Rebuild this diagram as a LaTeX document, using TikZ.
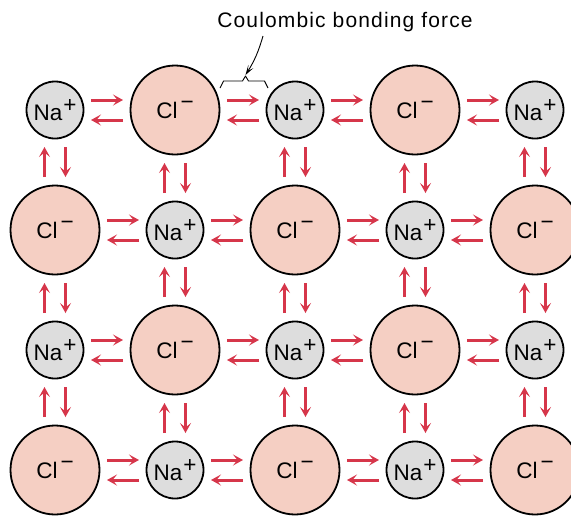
\documentclass[tikz,border=0pt]{standalone}
\usepackage{fontspec}
\setmainfont{Liberation Sans}
\newfontfamily\capfont[LetterSpace=5.5]{Liberation Sans}
\usetikzlibrary{arrows.meta,calc}
\definecolor{clfill}{HTML}{F5CFC3}
\definecolor{nafill}{HTML}{DDDDDD}
\definecolor{bondred}{HTML}{D6364A}
\newcommand{\napl}{Na\kern1pt\raisebox{7.5pt}{+}}
\newcommand{\clmi}{Cl\kern3pt\raisebox{9pt}{−}}
\begin{document}
\begin{tikzpicture}[x=1pt,y=-1pt,
  ion/.style={circle,draw=black,line width=1.8pt,inner sep=0pt,outer sep=0pt,
    font=\fontsize{22.5}{22.5}\selectfont},
  na/.style={ion,fill=nafill,minimum size=57pt},
  cl/.style={ion,fill=clfill,minimum size=89pt},
  bond/.style={draw=bondred,line width=3pt,
    -{Stealth[length=10pt,width=11pt,inset=4.5pt]}},
  callout/.style={draw=black,line width=0.9pt,
    -{Stealth[length=10pt,width=6pt,inset=5pt]}},
  bracket/.style={draw=black,line width=0.9pt,line join=round}]
\useasboundingbox (0,0) rectangle (571,515);
\begin{scope}
\clip (0,0) rectangle (571,515);
% ions
\foreach \i in {0,...,4}{
  \foreach \j in {0,...,3}{
    \pgfmathtruncatemacro\ionparity{mod(\i+\j,2)}
    \ifnum\ionparity=0
      \node[na] (n-\i-\j) at ({55+120*\i},{110+120*\j}) {\napl};
    \else
      \node[cl] (n-\i-\j) at ({55+120*\i},{110+120*\j}) {\clmi};
    \fi
  }
}
% horizontal bonds
\foreach \i [evaluate=\i as \k using int(\i+1)] in {0,...,3}{
  \foreach \j in {0,...,3}{
    \coordinate (h-\i-\j) at ($(n-\i-\j.east)!0.5!(n-\k-\j.west)$);
    \draw[bond] ($(h-\i-\j)+(-16,-10)$) -- ($(h-\i-\j)+(16,-10)$);
    \draw[bond] ($(h-\i-\j)+(16,10)$) -- ($(h-\i-\j)+(-16,10)$);
  }
}
% vertical bonds
\foreach \i in {0,...,4}{
  \foreach \j [evaluate=\j as \k using int(\j+1)] in {0,...,2}{
    \coordinate (v-\i-\j) at ($(n-\i-\j.south)!0.5!(n-\i-\k.north)$);
    \draw[bond] ($(v-\i-\j)+(-10.5,15)$) -- ($(v-\i-\j)+(-10.5,-15)$);
    \draw[bond] ($(v-\i-\j)+(10.5,-15)$) -- ($(v-\i-\j)+(10.5,15)$);
  }
}
\end{scope}
% caption, bracket and callout
\node[anchor=base,inner sep=0pt,font=\capfont\fontsize{21}{21}\selectfont] (cap) at (345,27) {Coulombic bonding force};
\coordinate (btip) at (245.5,76);
\draw[bracket] (220,88) -- (223.5,81) -- (242.5,81) -- (btip) -- (248.5,81) -- (264.5,81) -- (268,88);
\coordinate (cstart) at (263,36);
\draw[callout] (cstart) to[bend left=8] ($(btip)+(0,-1)$);
\end{tikzpicture}
\end{document}
